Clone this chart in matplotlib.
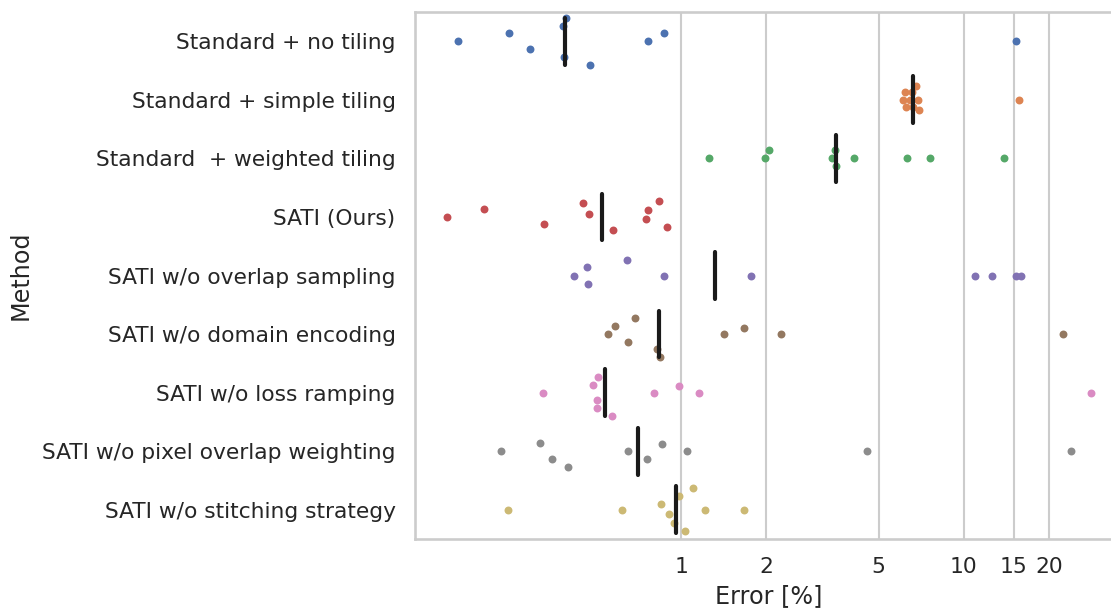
import numpy as np
import matplotlib
matplotlib.use("Agg")
import matplotlib.pyplot as plt
from matplotlib.ticker import FixedLocator, NullLocator, FixedFormatter

# methods, top to bottom
methods = [
    "Standard + no tiling",
    "Standard + simple tiling",
    "Standard  + weighted tiling",
    "SATI (Ours)",
    "SATI w/o overlap sampling",
    "SATI w/o domain encoding",
    "SATI w/o loss ramping",
    "SATI w/o pixel overlap weighting",
    "SATI w/o stitching strategy",
]

# error [%] per run
err_no_tiling = [0.163, 0.247, 0.293, 0.383, 0.392, 0.385, 0.475, 0.764, 0.873, 15.27]
err_simple_tiling = [6.10, 6.20, 6.27, 6.47, 6.56, 6.62, 6.80, 6.88, 6.95, 15.73]
err_weighted_tiling = [1.256, 1.982, 2.053, 3.413, 3.514, 3.543, 4.082, 6.30, 7.62, 13.92]
err_sati = [0.149, 0.201, 0.328, 0.450, 0.472, 0.575, 0.752, 0.762, 0.838, 0.892]
err_no_overlap = [0.418, 0.464, 0.469, 0.643, 0.871, 1.764, 10.94, 12.63, 15.27, 15.94]
err_no_domain = [0.552, 0.584, 0.651, 0.686, 0.825, 0.843, 1.423, 1.675, 2.258, 22.50]
err_no_ramping = [0.324, 0.488, 0.503, 0.506, 0.509, 0.569, 0.805, 0.984, 1.155, 28.13]
err_no_pixel_weight = [0.231, 0.317, 0.349, 0.399, 0.650, 0.756, 0.855, 1.050, 4.549, 24.02]
err_no_stitching = [0.245, 0.619, 0.848, 0.905, 0.942, 0.986, 1.031, 1.102, 1.216, 1.675]

errors = [err_no_tiling, err_simple_tiling, err_weighted_tiling, err_sati,
          err_no_overlap, err_no_domain, err_no_ramping, err_no_pixel_weight,
          err_no_stitching]

xticks = [1, 2, 5, 10, 15, 20]

colors = ["#4C72B0", "#DD8452", "#55A868", "#C44E52", "#8172B3",
          "#937860", "#DA8BC3", "#8C8C8C", "#CCB974"]

text_color = "#262626"
grid_color = "#cccccc"
marker_pt = 5.7


def beeswarm(orig, d):
    # orig sorted by value; column 0 = categorical, column 1 = value (display px)
    mid = orig[0, 0]
    swarm = [orig[0]]
    for p in orig[1:]:
        near = [q for q in swarm if p[1] - q[1] < d]
        cands = [p]
        left = True
        for q in near:
            dx = np.sqrt(max(d ** 2 - (p[1] - q[1]) ** 2, 0)) * 1.05
            pair = [np.array([q[0] - dx, p[1]]), np.array([q[0] + dx, p[1]])]
            cands.extend(pair if left else pair[::-1])
            left = not left
        cands = np.array(cands)
        cands = cands[np.argsort(np.abs(cands[:, 0] - mid), kind="mergesort")]
        for c in cands:
            if all((c[0] - q[0]) ** 2 + (c[1] - q[1]) ** 2 >= d ** 2 for q in near):
                swarm.append(c)
                break
    return np.array(swarm)


fig = plt.figure(figsize=(11.11, 6.09), dpi=100)
ax = fig.add_axes([415 / 1111, 70 / 609, 708 / 1111, 527 / 609])

# lay out the swarm on a linear axis first (like the original), then go log
allv = np.concatenate(errors)
span = allv.max() - allv.min()
ax.set_xlim(allv.min() - 0.05 * span, allv.max() + 0.05 * span)
ax.set_ylim(-0.5, len(methods) - 0.5)
d = marker_pt * fig.dpi / 72

points = []
for i, vals in enumerate(errors):
    vals = np.sort(np.array(vals))
    disp = ax.transData.transform(np.c_[vals, np.full(len(vals), i)])
    sw = beeswarm(disp[:, ::-1], d)[:, ::-1]
    ypos = ax.transData.inverted().transform(sw)[:, 1]
    ypos = np.clip(ypos, i - 0.4, i + 0.4)
    points.append((vals, ypos))

ax.set_xscale("log")
lmin, lmax = np.log10(allv.min()), np.log10(allv.max())
lspan = lmax - lmin
ax.set_xlim(10 ** (lmin - 0.05 * lspan), 10 ** (lmax + 0.05 * lspan))
ax.set_ylim(len(methods) - 0.5, -0.5)

for i, ((vals, ypos), c) in enumerate(zip(points, colors)):
    ax.scatter(vals, ypos, s=marker_pt ** 2, color=c, linewidth=0, zorder=2)
    med = np.median(errors[i])
    ax.plot([med, med], [i - 0.4, i + 0.4], color="#1a1a1a", lw=3,
            solid_capstyle="round", zorder=3)

ax.xaxis.set_major_locator(FixedLocator(xticks))
ax.xaxis.set_major_formatter(FixedFormatter([str(t) for t in xticks]))
ax.xaxis.set_minor_locator(NullLocator())
ax.set_yticks(range(len(methods)))
ax.set_yticklabels(methods)

ax.grid(axis="x", color=grid_color, lw=1.5, zorder=0)
ax.set_axisbelow(True)
for s in ax.spines.values():
    s.set_color(grid_color)
    s.set_linewidth(1.9)
ax.tick_params(axis="both", length=0, labelsize=15.7, labelcolor=text_color)
ax.tick_params(axis="y", pad=14)
ax.tick_params(axis="x", pad=13)

ax.set_xlabel("Error [%]", fontsize=17.2, color=text_color, labelpad=5)
ax.set_ylabel("Method", fontsize=17.2, color=text_color, labelpad=7)

fig.savefig("out.png", dpi=100)
